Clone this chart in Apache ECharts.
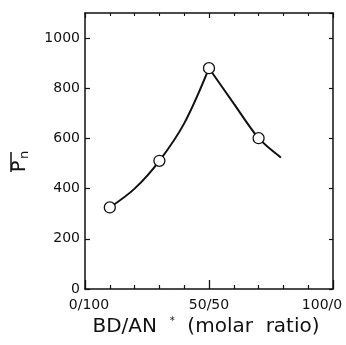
<!DOCTYPE html>
<html>
<head>
<meta charset="utf-8">
<script src="https://cdn.jsdelivr.net/npm/echarts@6/dist/echarts.min.js"></script>
<style>html,body{margin:0;padding:0;background:#fff}#c{width:346px;height:345px}</style>
</head>
<body>
<div id="c"></div>
<script>
// measured points (BD mol %, Pn)
var pointsX = [10, 30, 50, 70];
var pointsY = [325, 511, 880, 601];
// curve, drawn in two branches meeting at the peak
var riseX = [10, 20, 30, 40, 50];
var riseY = [325, 400, 511, 660, 880];
var fallX = [50, 60, 70, 79];
var fallY = [880, 739, 601, 524];
var xTickLabels = {0: '0/100', 50: '50/50', 100: '100/0'};
var yTickValues = [0, 200, 400, 600, 800, 1000];

function pairs(xs, ys) { return xs.map(function (x, i) { return [x, ys[i]]; }); }

var chart = echarts.init(document.getElementById('c'));
var black = '#111';
var font = 'DejaVu Sans';
chart.setOption({
  animation: false,
  grid: {left: 85, right: 13, top: 13, bottom: 56},
  xAxis: [{
    type: 'value', min: 0, max: 100, interval: 50, position: 'bottom',
    axisLine: {onZero: false, lineStyle: {color: black, width: 1.5}},
    axisTick: {inside: true, length: 9, lineStyle: {color: black, width: 1.3}},
    minorTick: {show: true, splitNumber: 5, length: 4, lineStyle: {color: black, width: 1.2}},
    splitLine: {show: false},
    axisLabel: {
      margin: 9, color: black, fontFamily: font, fontSize: 14,
      formatter: function (v) {
        if (v === 0) return '{a|' + xTickLabels[0] + '}';
        if (v === 100) return '{c|' + xTickLabels[100] + '}';
        return xTickLabels[v] || '';
      },
      rich: {
        a: {fontFamily: font, fontSize: 14, color: black, padding: [0, 0, 0, 8]},
        c: {fontFamily: font, fontSize: 14, color: black, padding: [0, 22, 0, 0]}
      }
    },
    name: 'BD/AN  {s|*}  (molar  ratio)', nameLocation: 'middle', nameGap: 21,
    nameTextStyle: {color: black, fontFamily: font, fontSize: 20, padding: [0, 6, 0, 0],
      rich: {s: {fontSize: 10, verticalAlign: 'top', padding: [0, 0, 8, 0], color: black}}}
  }, {
    type: 'value', min: 0, max: 100, interval: 50, position: 'top',
    axisLine: {onZero: false, lineStyle: {color: black, width: 1.5}},
    axisTick: {inside: true, length: 5, lineStyle: {color: black, width: 1.2}},
    minorTick: {show: true, splitNumber: 5, length: 3, lineStyle: {color: black, width: 1.1}},
    splitLine: {show: false}, axisLabel: {show: false}
  }],
  yAxis: [{
    type: 'value', min: 0, max: 1100, interval: 200, position: 'left',
    axisLine: {show: true, onZero: false, lineStyle: {color: black, width: 1.5}},
    axisTick: {show: true, inside: true, length: 5, lineStyle: {color: black, width: 1.2}},
    splitLine: {show: false},
    axisLabel: {margin: 5, color: black, fontFamily: font, fontSize: 14, showMaxLabel: false,
      formatter: function (v) { return yTickValues.indexOf(v) >= 0 ? String(v) : ''; }}
  }, {
    type: 'value', min: 0, max: 1100, interval: 200, position: 'right',
    axisLine: {show: true, onZero: false, lineStyle: {color: black, width: 1.5}},
    axisTick: {show: true, inside: true, length: 4, lineStyle: {color: black, width: 1.2}},
    splitLine: {show: false}, axisLabel: {show: false}
  }],
  graphic: [{
    type: 'group', x: 21, y: 162, rotation: Math.PI / 2,
    children: [
      {type: 'text', x: -10, y: -1, style: {text: 'P', fontFamily: font, fontSize: 19, fill: black, textVerticalAlign: 'middle'}},
      {type: 'text', x: 3, y: 4, style: {text: 'n', fontFamily: font, fontSize: 13, fill: black, textVerticalAlign: 'middle'}},
      {type: 'line', shape: {x1: -10, y1: -10, x2: 10, y2: -10}, style: {stroke: black, lineWidth: 1.5}}
    ]
  }],
  series: [{
    type: 'line', data: pairs(riseX, riseY), smooth: 0.35, symbol: 'none',
    lineStyle: {color: black, width: 2}
  }, {
    type: 'line', data: pairs(fallX, fallY), smooth: 0.3, symbol: 'none',
    lineStyle: {color: black, width: 2}
  }, {
    type: 'scatter', data: pairs(pointsX, pointsY), symbol: 'circle', symbolSize: 11,
    itemStyle: {color: '#fff', opacity: 1, borderColor: black, borderWidth: 1.3}, z: 5
  }]
});
</script>
</body>
</html>
